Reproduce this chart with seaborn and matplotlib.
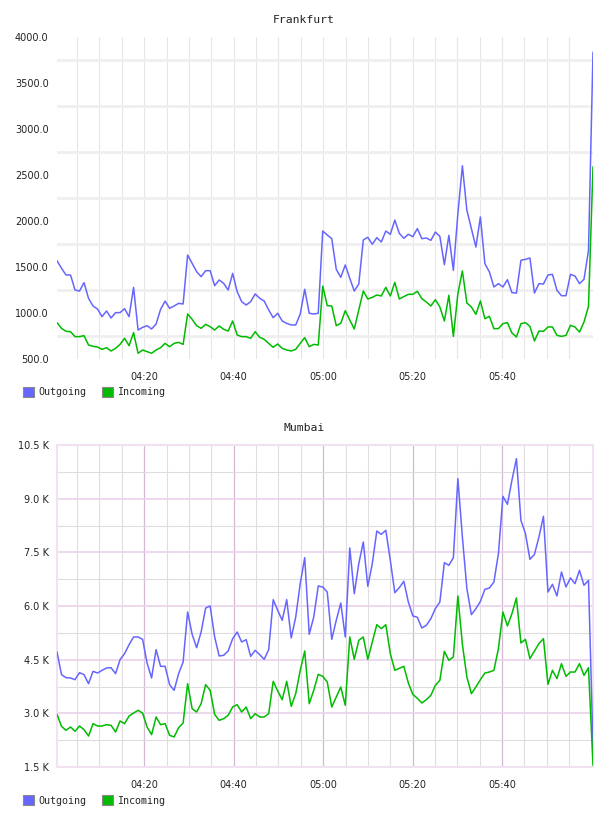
import pandas as pd
import seaborn as sns
from matplotlib import pyplot as plt
from matplotlib.patches import Patch

# samples are roughly one per minute, starting just after 04:00
start_min = 0.5
step_min = 1.007

frankfurt_out = [1569, 1486, 1413, 1413, 1250, 1239, 1330, 1159, 1076, 1043,
                 960, 1022, 946, 1004, 1004, 1047, 960, 1279, 815, 844,
                 862, 826, 880, 1040, 1130, 1051, 1076, 1105, 1098, 1630,
                 1540, 1449, 1395, 1460, 1460, 1297, 1359, 1322, 1250, 1431,
                 1232, 1123, 1087, 1123, 1207, 1160, 1130, 1033, 949, 997,
                 913, 887, 870, 870, 989, 1258, 997, 989, 997, 1891,
                 1848, 1808, 1475, 1388, 1522, 1377, 1239, 1315, 1794, 1823,
                 1747, 1819, 1772, 1891, 1855, 2010, 1866, 1812, 1855, 1830,
                 1917, 1808, 1815, 1790, 1880, 1833, 1525, 1844, 1464, 2080,
                 2600, 2116, 1917, 1717, 2044, 1536, 1446, 1283, 1319, 1283,
                 1362, 1221, 1217, 1573, 1583, 1598, 1217, 1319, 1315, 1413,
                 1420, 1246, 1188, 1188, 1420, 1402, 1319, 1366, 1681, 3835]
frankfurt_in = [895, 833, 801, 797, 743, 743, 754, 652, 638, 630,
                605, 623, 587, 616, 659, 725, 645, 786, 562, 598,
                580, 562, 598, 623, 670, 634, 670, 681, 659, 989,
                931, 862, 833, 877, 851, 815, 859, 823, 804, 913,
                761, 743, 743, 725, 797, 736, 714, 670, 627, 663,
                616, 598, 587, 605, 670, 732, 634, 659, 652, 1293,
                1080, 1076, 862, 888, 1025, 924, 826, 1033, 1239, 1152,
                1170, 1196, 1185, 1279, 1185, 1333, 1152, 1178, 1203, 1203,
                1236, 1156, 1120, 1076, 1145, 1065, 913, 1192, 746, 1210,
                1457, 1109, 1065, 986, 1131, 938, 964, 830, 830, 884,
                895, 783, 739, 884, 895, 855, 696, 804, 801, 848,
                848, 757, 746, 757, 866, 848, 793, 902, 1073, 2590]

mumbai_out = [4714, 4081, 3997, 3988, 3941, 4137, 4081, 3829, 4174, 4127,
              4202, 4267, 4276, 4109, 4500, 4668, 4919, 5134, 5134, 5068,
              4407, 3988, 4780, 4314, 4314, 3801, 3643, 4109, 4435, 5832,
              5208, 4835, 5273, 5944, 6000, 5134, 4603, 4621, 4742, 5087,
              5273, 4994, 5059, 4593, 4761, 4640, 4509, 4780, 6177, 5879,
              5599, 6177, 5106, 5693, 6624, 7351, 5208, 5693, 6559, 6531,
              6391, 5068, 5599, 6084, 5134, 7621, 6345, 7183, 7789, 6550,
              7183, 8096, 8003, 8115, 7277, 6373, 6513, 6690, 6112, 5721,
              5685, 5385, 5460, 5646, 5926, 6112, 7211, 7137, 7351, 9559,
              7929, 6485, 5758, 5926, 6130, 6466, 6503, 6671, 7463, 9065,
              8842, 9513, 10118, 8395, 8022, 7304, 7444, 7929, 8506, 6391,
              6606, 6280, 6950, 6531, 6783, 6624, 6997, 6578, 6718, 2059]
mumbai_in = [2972, 2637, 2525, 2618, 2497, 2646, 2544, 2366, 2711, 2646,
             2646, 2683, 2665, 2478, 2786, 2711, 2925, 3009, 3084, 3009,
             2618, 2404, 2898, 2683, 2711, 2385, 2339, 2599, 2730, 3829,
             3130, 3037, 3270, 3801, 3643, 2972, 2804, 2851, 2944, 3177,
             3242, 3037, 3177, 2851, 2991, 2898, 2898, 2991, 3894, 3624,
             3382, 3894, 3196, 3550, 4202, 4742, 3270, 3643, 4090, 4034,
             3876, 3177, 3457, 3736, 3224, 5134, 4509, 5040, 5134, 4509,
             4994, 5478, 5367, 5478, 4668, 4202, 4258, 4314, 3848, 3531,
             3420, 3289, 3382, 3503, 3783, 3922, 4733, 4481, 4575, 6280,
             4929, 4016, 3550, 3736, 3941, 4127, 4155, 4202, 4808, 5832,
             5441, 5786, 6224, 4966, 5068, 4528, 4742, 4947, 5087, 3811,
             4202, 3969, 4388, 4034, 4155, 4155, 4388, 4062, 4276, 1547]

tick_minutes = [20, 40, 60, 80, 100]
tick_labels = ['04:20', '04:40', '05:00', '05:20', '05:40']
grid_minutes = list(range(5, 120, 5))

colors = {'Outgoing': '#6666ff', 'Incoming': '#00bb00'}
mono = 'DejaVu Sans Mono'

sns.set_style('white')
plt.rcParams['font.family'] = ['DejaVu Sans']

fig = plt.figure(figsize=(6.08, 8.16), dpi=100)
ax1 = fig.add_axes([57 / 608, 1 - 359 / 816, 536 / 608, 322 / 816])
ax2 = fig.add_axes([57 / 608, 1 - 767 / 816, 536 / 608, 322 / 816])


def draw(ax, out, inc):
    n = len(out)
    minute = [start_min + i * step_min for i in range(n)]
    df = pd.DataFrame({
        'minute': minute * 2,
        'value': out + inc,
        'series': ['Outgoing'] * n + ['Incoming'] * n,
    })
    sns.lineplot(data=df, x='minute', y='value', hue='series', palette=colors,
                 linewidth=1.1, legend=False, ax=ax, zorder=3)
    ax.set_xlim(minute[0], minute[-1])
    ax.set_xticks(tick_minutes)
    ax.set_xticklabels(tick_labels)
    ax.set_xticks([m for m in grid_minutes if m not in tick_minutes], minor=True)
    ax.set_xlabel('')
    ax.set_ylabel('')
    ax.tick_params(which='both', length=0, labelsize=7, colors='#222222')
    ax.tick_params(axis='x', pad=9)
    ax.tick_params(axis='y', pad=6)
    ax.set_axisbelow(True)


# Frankfurt
draw(ax1, frankfurt_out, frankfurt_in)
ax1.set_ylim(500, 4000)
yt = list(range(500, 4001, 500))
ax1.set_yticks(yt)
ax1.set_yticklabels([f'{v:.1f}' for v in yt])
ax1.grid(False)
ax1.grid(which='both', axis='x', color='#e6e6e6', linewidth=0.8)
for v in range(750, 4000, 500):
    ax1.axhline(v, color='#efefef', linewidth=2, zorder=1)
for s in ax1.spines.values():
    s.set_visible(False)

# Mumbai
draw(ax2, mumbai_out, mumbai_in)
ax2.set_ylim(1500, 10500)
yt = list(range(1500, 10501, 1500))
ax2.set_yticks(yt)
ax2.set_yticklabels([f'{v / 1000:.1f} K' for v in yt])
ax2.set_yticks(list(range(2250, 10500, 1500)), minor=True)
ax2.grid(False)
ax2.grid(which='major', axis='y', color='#ead2ea', linewidth=1.2)
ax2.grid(which='minor', axis='y', color='#dddddd', linewidth=0.8)
ax2.grid(which='major', axis='x', color='#d4b8d4', linewidth=0.9)
ax2.grid(which='minor', axis='x', color='#e2dce2', linewidth=0.8)
for s in ax2.spines.values():
    s.set_visible(True)
    s.set_color('#f0e2f0')
    s.set_linewidth(1.5)

fig.text(0.5, 1 - 20 / 816, 'Frankfurt', ha='center', va='center',
         fontfamily=mono, fontsize=8.2, color='#222222')
fig.text(0.5, 1 - 428 / 816, 'Mumbai', ha='center', va='center',
         fontfamily=mono, fontsize=8.2, color='#222222')

handles = [Patch(facecolor=colors[k], edgecolor='#888888', linewidth=0.8)
           for k in ['Outgoing', 'Incoming']]
for ax, ly in [(ax1, 392), (ax2, 800.5)]:
    ax.legend(handles, ['Outgoing', 'Incoming'], loc='center left',
              bbox_to_anchor=(23 / 608, 1 - ly / 816), bbox_transform=fig.transFigure,
              ncol=2, frameon=False, borderpad=0, borderaxespad=0,
              handlelength=1.1, handleheight=1.1, handletextpad=0.4,
              columnspacing=1.6, prop={'family': mono, 'size': 7.2})

plt.savefig('out.png', dpi=100)
